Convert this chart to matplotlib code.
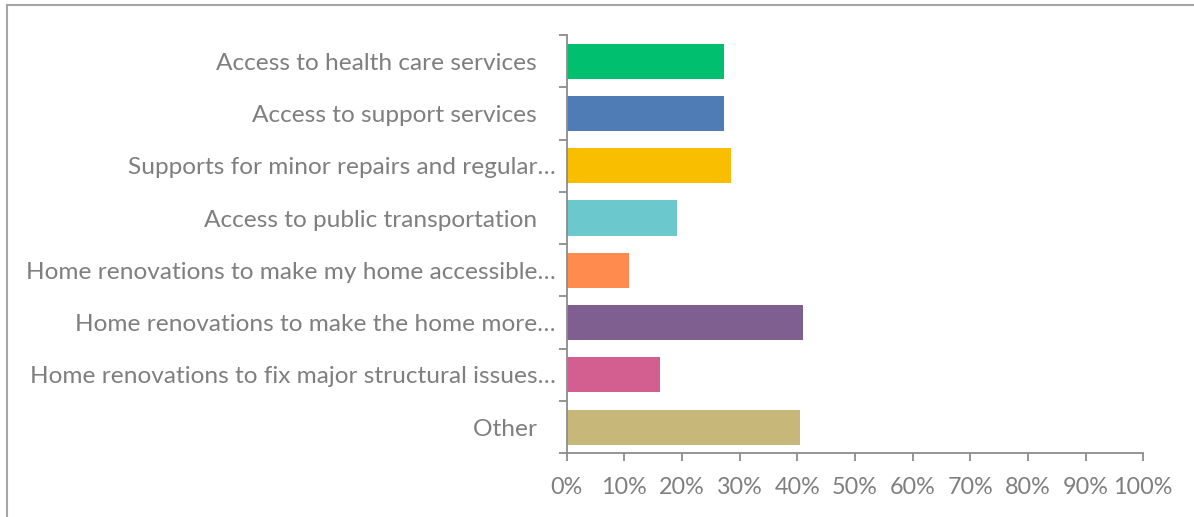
import matplotlib
matplotlib.use("Agg")
import matplotlib.pyplot as plt
from matplotlib.lines import Line2D
from matplotlib.ticker import FuncFormatter, MultipleLocator

# survey answers, top to bottom (full labels keep some padding on the right)
PAD = "   "
categories = [
    "Access to health care services" + PAD,
    "Access to support services" + PAD,
    "Supports for minor repairs and regular\u2026",
    "Access to public transportation" + PAD,
    "Home renovations to make my home accessible\u2026",
    "Home renovations to make the home more\u2026",
    "Home renovations to fix major structural issues\u2026",
    "Other" + PAD,
]
shares = [27.3, 27.3, 28.5, 19.1, 10.8, 41.0, 16.2, 40.5]
colors = ["#00bf6f", "#507cb6", "#f9be00", "#6bc8cd", "#ff8b4f",
          "#7f5f90", "#d25f90", "#c7b879"]

GREY = "#8c8c8c"
TEXT = "#7f7f7f"

plt.rcParams["font.family"] = ["Lato", "DejaVu Sans"]

fig = plt.figure(figsize=(11.94, 5.17), dpi=100)
ax = fig.add_axes([0.4746, 0.1232, 0.4829, 0.8091])

ypos = list(range(len(categories)))
ax.barh(ypos, shares, height=0.67, color=colors, zorder=2)

ax.set_xlim(0, 100)
ax.set_ylim(len(categories) - 0.5, -0.5)
ax.xaxis.set_major_locator(MultipleLocator(10))
ax.xaxis.set_major_formatter(FuncFormatter(lambda v, _: f"{v:.0f}%"))

# category ticks sit between the bars, labels in the middle
ax.set_yticks([y - 0.5 for y in ypos] + [len(categories) - 0.5])
ax.set_yticklabels([])
ax.set_yticks(ypos, minor=True)
ax.set_yticklabels(categories, minor=True)
ax.tick_params(axis="y", which="minor", length=0, pad=8,
               labelsize=17.6, labelcolor=TEXT)
ax.tick_params(axis="y", which="major", length=6, width=1.3, color=GREY)
ax.tick_params(axis="x", length=6, width=1.3, color=GREY, pad=11,
               labelsize=16.8, labelcolor=TEXT)

for side in ("top", "right"):
    ax.spines[side].set_visible(False)
for side in ("left", "bottom"):
    ax.spines[side].set_color(GREY)
    ax.spines[side].set_linewidth(1.3)

# outer frame: top and left edges
fig.add_artist(Line2D([0.0055, 1.0], [0.9894, 0.9894], transform=fig.transFigure,
                      color="#a6a6a6", linewidth=1.5))
fig.add_artist(Line2D([0.0055, 0.0055], [0.0, 0.9894], transform=fig.transFigure,
                      color="#a6a6a6", linewidth=1.5))

fig.savefig("out.png", dpi=100)
